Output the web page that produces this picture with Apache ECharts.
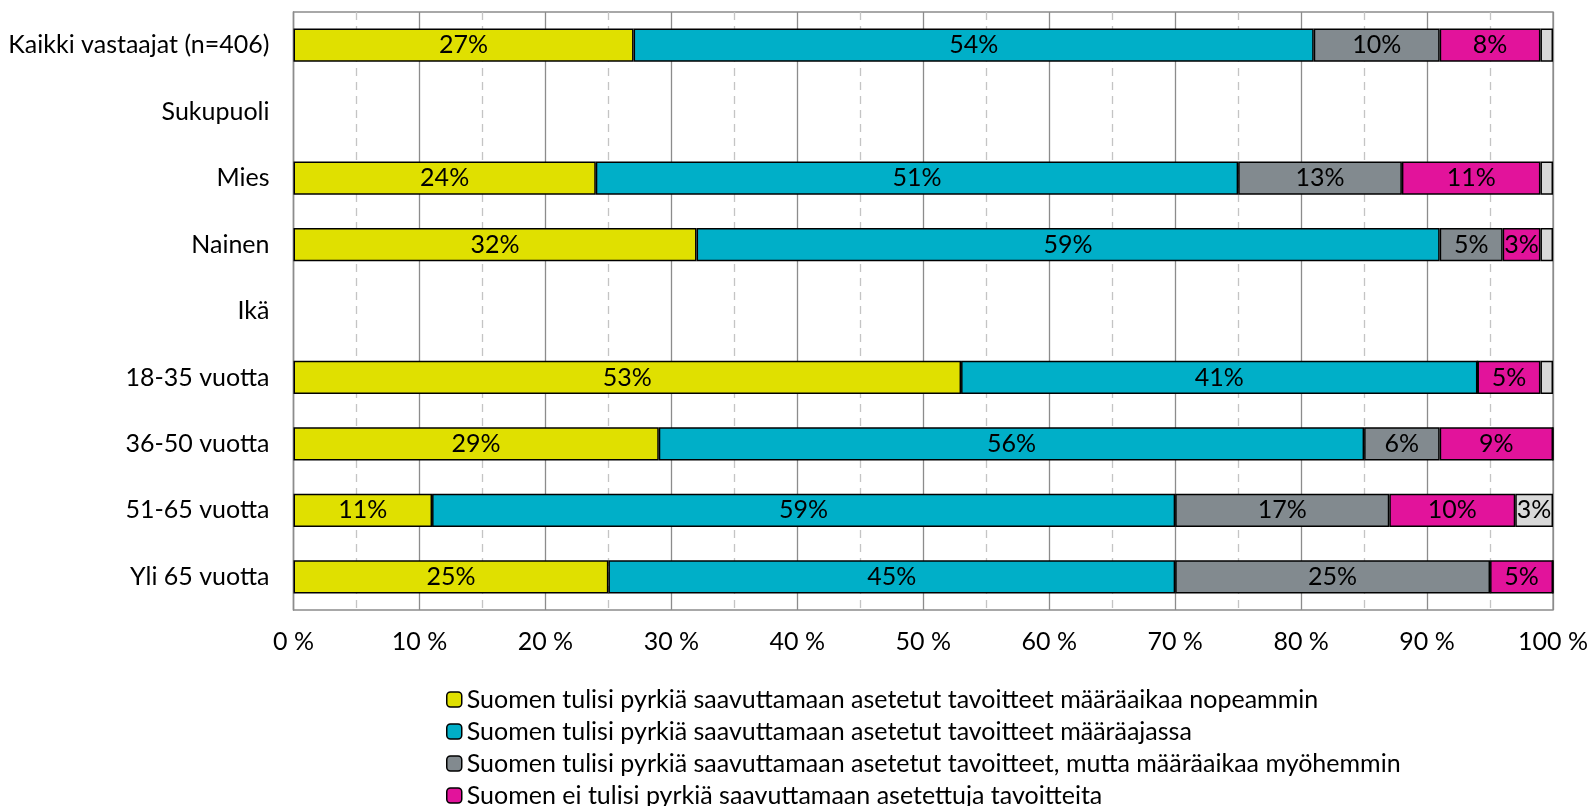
<!DOCTYPE html>
<html>
<head>
<meta charset="utf-8">
<script src="https://cdn.jsdelivr.net/npm/echarts@6/dist/echarts.min.js"></script>
<style>
  html, body { margin: 0; padding: 0; background: #fff; }
  #chart { width: 1591px; height: 806px; }
</style>
</head>
<body>
<div id="chart"></div>
<script>
const categories = [
  "Kaikki vastaajat (n=406)", "Sukupuoli", "Mies", "Nainen", "Ikä",
  "18-35 vuotta", "36-50 vuotta", "51-65 vuotta", "Yli 65 vuotta"
];
const seriesNames = [
  "Suomen tulisi pyrkiä saavuttamaan asetetut tavoitteet määräaikaa nopeammin",
  "Suomen tulisi pyrkiä saavuttamaan asetetut tavoitteet määräajassa",
  "Suomen tulisi pyrkiä saavuttamaan asetetut tavoitteet, mutta määräaikaa myöhemmin",
  "Suomen ei tulisi pyrkiä saavuttamaan asetettuja tavoitteita",
  "En osaa sanoa"
];
const nopeammin = [27, null, 24, 32, null, 53, 29, 11, 25];
const maaraajassa = [54, null, 51, 59, null, 41, 56, 59, 45];
const myohemmin = [10, null, 13, 5, null, 0, 6, 17, 25];
const eiTulisi = [8, null, 11, 3, null, 5, 9, 10, 5];
const eos = [1, null, 1, 1, null, 1, 0, 3, 0];
const xTicks = [0, 10, 20, 30, 40, 50, 60, 70, 80, 90, 100];

const colors = ["#e0e000", "#00afc8", "#828a8f", "#e2139b", "#d9d9d9"];
const values = [nopeammin, maaraajassa, myohemmin, eiTulisi, eos];
const FONT = "Lato";
const FS = 25;

const chart = echarts.init(document.getElementById("chart"), null, { renderer: "canvas" });

const series = values.map((vals, i) => ({
  name: seriesNames[i],
  type: "bar",
  stack: "total",
  barWidth: "50%",
  data: vals,
  itemStyle: { color: colors[i], borderColor: "#000", borderWidth: 1.5 },
  label: {
    show: true,
    position: "inside",
    color: "#000",
    fontFamily: FONT,
    fontSize: FS,
    formatter: (p) => (p.value >= 3 ? p.value + "%" : "")
  },
  emphasis: { disabled: true }
}));

chart.setOption({
  animation: false,
  textStyle: { fontFamily: FONT },
  grid: {
    left: 293.5, right: 37, top: 12, bottom: 196,
    show: true, borderColor: "#8c8c8c", borderWidth: 1.3
  },
  legend: {
    orient: "vertical",
    left: 441, top: 682,
    height: 400,
    itemWidth: 15, itemHeight: 15, itemGap: 7,
    data: seriesNames,
    itemStyle: { borderColor: "#000", borderWidth: 1.5 },
    textStyle: { fontFamily: FONT, fontSize: FS, color: "#000", lineHeight: 25 }
  },
  xAxis: {
    type: "value",
    min: 0, max: 100, interval: 10,
    axisLine: { show: false },
    axisTick: { show: false },
    axisLabel: {
      margin: 19, fontSize: FS, color: "#000", fontFamily: FONT,
      formatter: (v) => (xTicks.includes(v) ? v + " %" : "")
    },
    splitLine: { show: true, lineStyle: { color: "#8c8c8c", width: 1.3 } },
    minorTick: { show: false, splitNumber: 2 },
    minorSplitLine: { show: true, lineStyle: { color: "#c4c4c4", width: 1.3, type: [8, 6] } }
  },
  yAxis: {
    type: "category",
    inverse: true,
    data: categories,
    axisLine: { show: true, lineStyle: { color: "#8c8c8c", width: 1.3 } },
    axisTick: { show: false },
    axisLabel: { margin: 24, fontSize: FS, color: "#000", fontFamily: FONT }
  },
  series: series
});
</script>
</body>
</html>
